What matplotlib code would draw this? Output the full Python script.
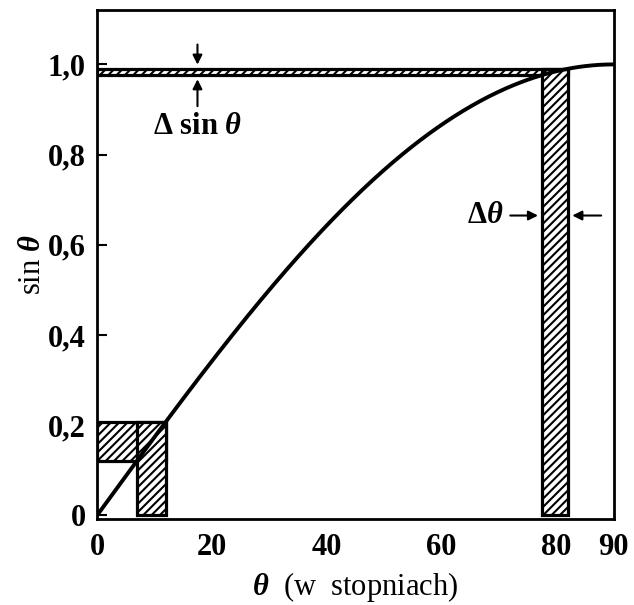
import numpy as np
import matplotlib
matplotlib.use("Agg")
import matplotlib.pyplot as plt
from matplotlib.patches import Rectangle

plt.rcParams['font.family'] = ['Liberation Serif', 'DejaVu Serif']
plt.rcParams['font.weight'] = 'bold'
plt.rcParams['mathtext.fontset'] = 'custom'
plt.rcParams['mathtext.rm'] = 'Liberation Serif:bold'
plt.rcParams['mathtext.it'] = 'Liberation Serif:italic:bold'
plt.rcParams['hatch.linewidth'] = 1.5

# data
theta_deg = np.linspace(0, 90, 361)
sin_vals = np.sin(np.radians(theta_deg))
xticks = [0, 20, 40, 60, 80, 90]
xticklabels = ['0', '20', '40', '60', '80', '90']
yticks = [0, 0.2, 0.4, 0.6, 0.8, 1.0]
yticklabels = ['0', '0,2', '0,4', '0,6', '0,8', '1,0']
small_band = (7, 12)    # degrees
large_band = (77.5, 82)   # degrees

fig = plt.figure(figsize=(6.34, 6.05), dpi=100)
ax = fig.add_axes([0.153, 0.142, 0.815, 0.841])

lw = 2.3
for (a, b) in [small_band, large_band]:
    sa, sb = np.sin(np.radians(a)), np.sin(np.radians(b))
    ax.add_patch(Rectangle((0, sa), b, sb - sa, facecolor='white',
                           edgecolor='black', hatch='////', lw=lw, zorder=2))
    ax.add_patch(Rectangle((a, 0), b - a, sb, facecolor='white',
                           edgecolor='black', hatch='////', lw=lw, zorder=2))

ax.plot(theta_deg, sin_vals, color='black', lw=2.8, zorder=3, solid_capstyle='butt')

ax.set_xlim(0, 90)
ax.set_ylim(-0.008, 1.12)
ax.set_xticks(xticks)
ax.set_xticklabels(xticklabels)
ax.set_yticks(yticks)
ax.set_yticklabels(yticklabels)
ax.tick_params(axis='x', length=0, pad=10, labelsize=22)
ax.tick_params(axis='y', direction='in', length=7, width=1.5, pad=8, labelsize=22)
for s in ax.spines.values():
    s.set_linewidth(2.0)

ax.set_xlabel(r'$\theta$  (w  stopniach)', fontsize=22, labelpad=6)
ax.set_ylabel(r'sin $\theta$', fontsize=22, labelpad=1)

# Delta sin theta annotation
s78, s82 = np.sin(np.radians(large_band[0])), np.sin(np.radians(large_band[1]))
ax.annotate('', xy=(17.5, s82 + 0.003), xytext=(17.5, s82 + 0.06),
            arrowprops=dict(arrowstyle='-|>', color='black', lw=1.5, mutation_scale=14))
ax.annotate('', xy=(17.5, s78 - 0.003), xytext=(17.5, s78 - 0.075),
            arrowprops=dict(arrowstyle='-|>', color='black', lw=1.5, mutation_scale=14))
ax.text(17.5, 0.862, r'$\Delta$ sin $\theta$', fontsize=22, ha='center', va='center')

# Delta theta annotation
ax.annotate('', xy=(77.3, 0.665), xytext=(71.5, 0.665),
            arrowprops=dict(arrowstyle='-|>', color='black', lw=1.5, mutation_scale=14))
ax.annotate('', xy=(82.3, 0.665), xytext=(88.3, 0.665),
            arrowprops=dict(arrowstyle='-|>', color='black', lw=1.5, mutation_scale=14))
ax.text(70.8, 0.665, r'$\Delta\theta$', fontsize=22, ha='right', va='center')

fig.savefig('out.png', dpi=100)
